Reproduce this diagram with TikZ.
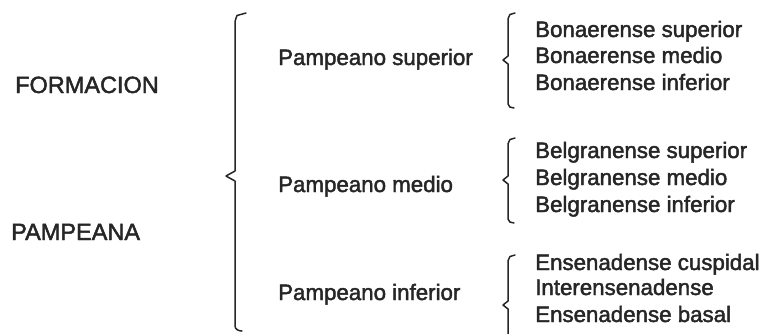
\documentclass[tikz,border=0pt]{standalone}
\usepackage{fontspec}
\setmainfont{Liberation Sans}[BoldFont=Liberation Sans,BoldFeatures={FakeBold=2.0}]
\begin{document}
\begin{tikzpicture}[x=1pt,y=-1pt,
  lbl/.style={anchor=base west,inner sep=0pt,font=\fontsize{22.3}{26}\selectfont\bfseries,text=black!85},
  capslbl/.style={lbl,font=\fontsize{23.5}{26}\selectfont\bfseries},
  brc/.style={draw=black!85,line width=1.5pt,line join=round,line cap=round}]
\useasboundingbox (0,0) rectangle (765,333);
% left column
\node[capslbl] (form) at (15,93) {FORMACION};
\node[capslbl] (pamp) at (11,240) {PAMPEANA};
% middle column
\node[lbl] (ps) at (278,65) {Pampeano superior};
\node[lbl] (pm) at (278,192) {Pampeano medio};
\node[lbl] (pi) at (278,300) {Pampeano inferior};
% right column
\node[lbl] (b1) at (535,37) {Bonaerense superior};
\node[lbl] (b2) at (535,63) {Bonaerense medio};
\node[lbl] (b3) at (535,90) {Bonaerense inferior};
\node[lbl] (g1) at (535,158) {Belgranense superior};
\node[lbl] (g2) at (535,185) {Belgranense medio};
\node[lbl] (g3) at (535,212) {Belgranense inferior};
\node[lbl] (e1) at (535,270) {Ensenadense cuspidal};
\node[lbl] (e2) at (535,295) {Interensenadense};
\node[lbl] (e3) at (535,322) {Ensenadense basal};
% big brace
\draw[brc] (246,13) -- (237,15.5) to[out=-100,in=90] (235,22) -- (235,171) -- (226,176) -- (235,181) -- (235,326) to[out=-90,in=180] (242,331);
% small braces
\draw[brc] (515,13) -- (510,14.5) to[out=-100,in=90] (508,19) -- (508,56) -- (503,60) -- (508,64) -- (508,104) to[out=-90,in=180] (514,108);
\draw[brc] (515,138) -- (510,139.5) to[out=-100,in=90] (508,144) -- (508,176) -- (503,180) -- (508,184) -- (508,219) to[out=-90,in=180] (514,223);
\draw[brc] (515,255) -- (510,256.5) to[out=-100,in=90] (508,261) -- (508,301) -- (503,305) -- (508,309) -- (508,340);
\end{tikzpicture}
\end{document}
